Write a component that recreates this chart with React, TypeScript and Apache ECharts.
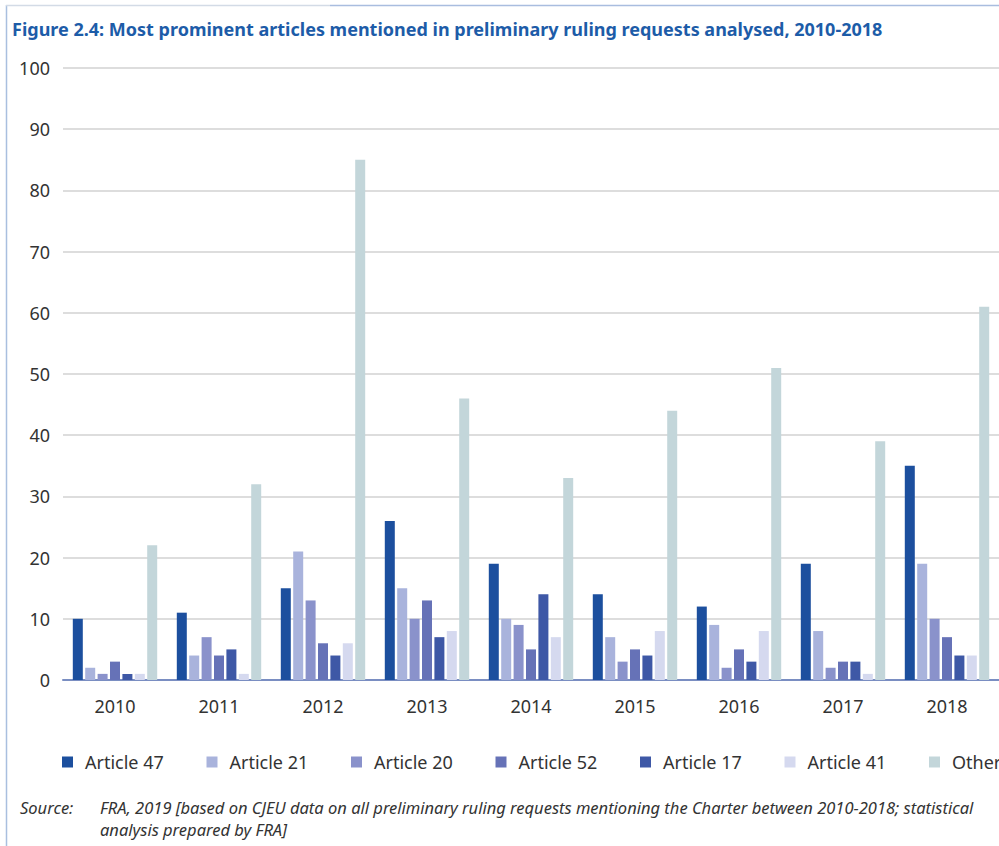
import React, { useEffect, useRef } from "react";
import * as echarts from "echarts";

const years = ["2010", "2011", "2012", "2013", "2014", "2015", "2016", "2017", "2018"];
const seriesNames = ["Article 47", "Article 21", "Article 20", "Article 52", "Article 17", "Article 41", "Other"];
const article47 = [10, 11, 15, 26, 19, 14, 12, 19, 35];
const article21 = [2, 4, 21, 15, 10, 7, 9, 8, 19];
const article20 = [1, 7, 13, 10, 9, 3, 2, 2, 10];
const article52 = [3, 4, 6, 13, 5, 5, 5, 3, 7];
const article17 = [1, 5, 4, 7, 14, 4, 3, 3, 4];
const article41 = [1, 1, 6, 8, 7, 8, 8, 1, 4];
const other = [22, 32, 85, 46, 33, 44, 51, 39, 61];
const yTicks = [0, 10, 20, 30, 40, 50, 60, 70, 80, 90, 100];

const colors = ["#1c4f9e", "#a9b3dc", "#8a92cb", "#6672b7", "#3e58a6", "#d5d9ef", "#c3d6da"];

const titleText = "Figure 2.4: Most prominent articles mentioned in preliminary ruling requests analysed, 2010-2018";
const sourceLabel = "Source:";
const sourceLine1 =
  "FRA, 2019 [based on CJEU data on all preliminary ruling requests mentioning the Charter between 2010-2018; statistical";
const sourceLine2 = "analysis prepared by FRA]";

const FONT = "'Noto Sans', Roboto, sans-serif";

export default function App() {
  const ref = useRef<HTMLDivElement>(null);
  useEffect(() => {
    document.body.style.margin = "0";
    if (!ref.current) return;
    const chart = echarts.init(ref.current, null, { renderer: "svg" });
    const data = [article47, article21, article20, article52, article17, article41, other];
    const series = seriesNames.map((name, i) => ({
      name,
      type: "bar",
      data: data[i],
      barWidth: 10,
      barGap: "24%",
      itemStyle: { color: colors[i] },
    }));
    const legends = seriesNames.map((name, i) => ({
      data: [name],
      left: 62 + i * 144.5,
      top: 753,
      padding: 0,
      icon: "rect",
      itemWidth: 11,
      itemHeight: 11,
      selectedMode: false,
      textStyle: { fontFamily: FONT, fontSize: 18, color: "#333", padding: [0, 0, 0, 7] },
    }));
    chart.setOption({
      animation: false,
      backgroundColor: "#ffffff",
      textStyle: { fontFamily: FONT },
      grid: { left: 63, top: 68, width: 938, bottom: 166, containLabel: false },
      legend: legends,
      xAxis: {
        type: "category",
        data: years,
        axisLine: { lineStyle: { color: "#7a8ec2", width: 2 } },
        axisTick: { show: false },
        axisLabel: { fontFamily: FONT, fontSize: 18, color: "#333", margin: 17 },
      },
      yAxis: {
        type: "value",
        min: yTicks[0],
        max: yTicks[yTicks.length - 1],
        interval: 10,
        axisLine: { show: false },
        axisTick: { show: false },
        axisLabel: { fontFamily: FONT, fontSize: 18, color: "#333", margin: 13 },
        splitLine: { lineStyle: { color: "#d2d2d2", width: 1.5 } },
      },
      graphic: [
        { type: "line", shape: { x1: 6.5, y1: 5, x2: 6.5, y2: 846 }, style: { stroke: "#a9bfdf", lineWidth: 1.5 } },
        { type: "line", shape: { x1: 6, y1: 5.5, x2: 330, y2: 5.5 }, style: { stroke: "#d3dbe6", lineWidth: 1.5 } },
        { type: "line", shape: { x1: 330, y1: 5.5, x2: 999, y2: 5.5 }, style: { stroke: "#a9bddf", lineWidth: 1.5 } },
        {
          type: "text",
          left: 12,
          top: 20,
          style: { text: titleText, fill: "#1d5ca8", font: `bold 18px ${FONT}` },
        },
        {
          type: "text",
          left: 20,
          top: 796,
          style: { text: sourceLabel, fill: "#333", font: `italic 16.5px ${FONT}`, lineHeight: 22 },
        },
        {
          type: "text",
          left: 100,
          top: 796,
          style: { text: sourceLine1, fill: "#333", font: `italic 16.5px ${FONT}`, lineHeight: 22 },
        },
        {
          type: "text",
          left: 100,
          top: 818,
          style: { text: sourceLine2, fill: "#333", font: `italic 16.5px ${FONT}`, lineHeight: 22 },
        },
      ],
      series,
    });
    return () => chart.dispose();
  }, []);
  return <div ref={ref} style={{ width: 999, height: 846 }} />;
}
